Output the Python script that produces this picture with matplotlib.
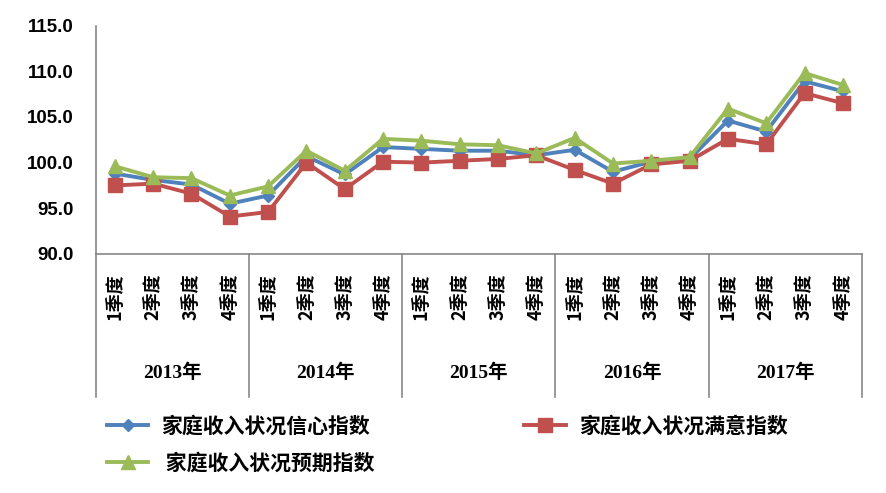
import matplotlib
matplotlib.use("Agg")
import matplotlib.pyplot as plt
import matplotlib.transforms as mtransforms
import numpy as np

plt.rcParams['font.family'] = ['Liberation Sans', 'Noto Sans CJK SC', 'DejaVu Sans']

# 数据
years = ['2013年', '2014年', '2015年', '2016年', '2017年']
quarters = ['1季度', '2季度', '3季度', '4季度']
confidence = [98.8, 98.1, 97.6, 95.5, 96.4, 100.7, 98.7, 101.7,
              101.5, 101.3, 101.3, 100.8, 101.4, 99.0, 100.1, 100.4,
              104.6, 103.4, 108.9, 107.8]
satisfaction = [97.5, 97.7, 96.6, 94.1, 94.6, 100.0, 97.1, 100.1,
                100.0, 100.2, 100.4, 100.8, 99.2, 97.7, 99.8, 100.2,
                102.6, 102.0, 107.6, 106.5]
expectation = [99.6, 98.4, 98.3, 96.4, 97.4, 101.3, 99.1, 102.6,
               102.4, 102.0, 101.9, 101.0, 102.7, 99.9, 100.2, 100.6,
               105.9, 104.3, 109.8, 108.5]
names = ['家庭收入状况信心指数', '家庭收入状况满意指数', ' 家庭收入状况预期指数']

fig = plt.figure(figsize=(8.86, 4.93), dpi=100)
ax = fig.add_axes([95.7 / 886, 1 - 254 / 493, (862 - 95.7) / 886, (254 - 25.5) / 493])

x = np.arange(len(confidence))
l1, = ax.plot(x, confidence, color='#4F81BD', lw=2.8, marker='D', ms=6.5,
              label=names[0], zorder=3)
l2, = ax.plot(x, satisfaction, color='#C0504D', lw=2.8, marker='s', ms=10,
              label=names[1], zorder=3)
l3, = ax.plot(x, expectation, color='#9BBB59', lw=2.8, marker='^', ms=10.5,
              label=names[2], zorder=3)

ax.set_xlim(-0.5, len(x) - 0.5)
ax.set_ylim(90, 115)
ax.set_yticks(np.arange(90, 116, 5))
ax.set_yticklabels(['%.1f' % v for v in np.arange(90, 116, 5)],
                   fontsize=13.5, fontweight='bold')
ax.tick_params(axis='y', length=0, pad=16)

ax.set_xticks(x)
ax.set_xticklabels(quarters * len(years), rotation=90, fontsize=13,
                   fontweight='bold', family=['Noto Sans CJK SC'])
ax.tick_params(axis='x', length=0, pad=14)

for s in ['top', 'right']:
    ax.spines[s].set_visible(False)
for s in ['left', 'bottom']:
    ax.spines[s].set_color('#878787')
    ax.spines[s].set_linewidth(1.2)

# 年份分隔线和标签
trans = mtransforms.blended_transform_factory(ax.transData, ax.transAxes)
bottom = -(397 - 254) / (254 - 25.5)
for i in range(len(years) + 1):
    ax.plot([i * 4 - 0.5, i * 4 - 0.5], [0, bottom], transform=trans,
            color='#878787', lw=1.2, clip_on=False)
for i, yr in enumerate(years):
    ax.text(i * 4 + 1.5, -(373 - 254) / (254 - 25.5), yr, transform=trans,
            ha='center', va='center', fontsize=14, fontweight='bold',
            family=['Liberation Serif', 'Noto Sans CJK SC'])

fig.legend(handles=[l1, l3, l2], labels=[names[0], names[2], names[1]],
           loc='upper left', bbox_to_anchor=(88 / 886, 1 - 397 / 493),
           ncol=2, frameon=False, handlelength=2.0, handletextpad=0.6,
           columnspacing=7.2, labelspacing=0.75,
           prop={'family': ['Noto Sans CJK SC'], 'weight': 'bold', 'size': 15})

fig.savefig('out.png', dpi=100)
